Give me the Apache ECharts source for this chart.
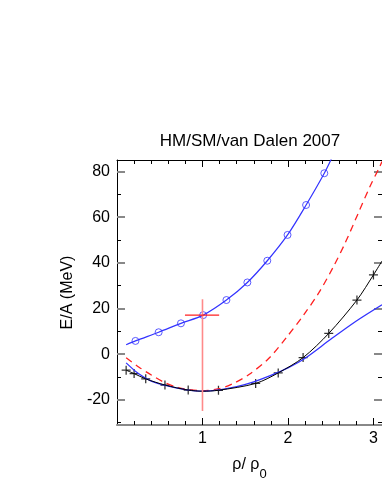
<!DOCTYPE html>
<html>
<head>
<meta charset="utf-8">
<script src="https://cdn.jsdelivr.net/npm/echarts@6/dist/echarts.min.js"></script>
<style>
  html, body { margin: 0; padding: 0; background: #fff; }
  #chart { width: 382px; height: 494px; }
</style>
</head>
<body>
<div id="chart"></div>
<script>
var FONT = 'Liberation Sans, Arial, Helvetica, sans-serif';

// tick positions
var xMajor = [1, 2, 3];
var xMinor = [0.2, 0.4, 0.6, 0.8, 1.2, 1.4, 1.6, 1.8, 2.2, 2.4, 2.6, 2.8];
var yMajor = [-20, 0, 20, 40, 60, 80];
var yMinor = [-30, -10, 10, 30, 50, 70];

// blue circles (HM, neutron matter) and the curve through them
var hmCircles = [[0.216, 5.8], [0.487, 9.6], [0.748, 13.5], [1.008, 17.1], [1.28, 23.7],
  [1.525, 31.4], [1.758, 40.9], [1.995, 52.2], [2.212, 65.3], [2.425, 79.2]];
var hmLine = [[0.107, 4.1], [0.216, 5.8], [0.487, 9.6], [0.748, 13.5], [1.008, 17.1], [1.28, 23.7],
  [1.525, 31.4], [1.758, 40.9], [1.995, 52.2], [2.212, 65.3], [2.425, 79.2], [2.52, 86.5]];

// black crosses (symmetric matter) and their curve
var smCrosses = [[0.107, -7.0], [0.2, -8.5], [0.336, -10.8], [0.561, -13.5], [0.833, -15.7],
  [1.187, -15.8], [1.622, -12.8], [1.886, -8.2], [2.177, -1.5], [2.477, 9.1], [2.807, 23.7], [3.0, 34.7]];
var smLine = [[0.107, -7.0], [0.2, -8.5], [0.336, -10.8], [0.561, -13.5], [0.833, -15.7], [1.0, -16.2],
  [1.187, -15.8], [1.622, -12.8], [1.886, -8.2], [2.177, -1.5], [2.477, 9.1], [2.807, 23.7], [3.0, 34.7], [3.1, 40.8]];

// blue solid curve without symbols
var blueLow = [[0.107, -3.8], [0.25, -8.5], [0.4, -11.8], [0.6, -14.0], [0.8, -15.5], [1.0, -16.2],
  [1.2, -15.6], [1.4, -14.2], [1.6, -12.1], [1.8, -9.3], [2.0, -6.0], [2.2, -1.8], [2.5, 6.5],
  [2.8, 14.5], [3.1, 21.6]];

// red dashed curve
var redDash = [[0.107, -1.6], [0.262, -5.8], [0.406, -9.2], [0.542, -12.1], [0.717, -14.6], [1.0, -16.0],
  [1.195, -15.1], [1.35, -13.0], [1.544, -8.9], [1.777, -1.8], [1.99, 7.7], [2.184, 17.2],
  [2.358, 26.7], [2.532, 38.3], [2.668, 48.6], [2.822, 61.7], [2.958, 73.3], [3.074, 82.1], [3.1, 84.3]];

// saturation point cross
var satH = [[0.795, 17.1], [1.195, 17.1]];
var satV = [[1.0, 24.0], [1.0, -24.9]];

var plus = 'path://M0,4.3H10V5.7H0Z M4.3,0H5.7V10H4.3Z';

function xAx(pos, ticks, len, line, labels) {
  return {
    type: 'value', position: pos, min: 0, max: 3.1,
    axisLine: { show: !!line, onZero: false, lineStyle: line || {} },
    axisTick: { show: true, inside: true, length: len, customValues: ticks,
      lineStyle: { color: '#000', width: 1 } },
    axisLabel: labels ? { customValues: ticks, color: '#000', fontSize: 16, fontFamily: FONT, margin: 6 } : { show: false },
    splitLine: { show: false }
  };
}
function yAx(pos, ticks, len, tickStyle, line, labels) {
  return {
    type: 'value', position: pos, min: -31, max: 85,
    axisLine: { show: !!line, onZero: false, lineStyle: line || {} },
    axisTick: { show: true, inside: true, length: len, customValues: ticks, lineStyle: tickStyle },
    axisLabel: labels ? { customValues: ticks, color: '#000', fontSize: 16, fontFamily: FONT, margin: 7 } : { show: false },
    splitLine: { show: false }
  };
}

var xBottom = xAx('bottom', xMajor, 7, { color: '#888', width: 2 }, true);
xBottom.name = '{a|ρ/ ρ}{b|0}';
xBottom.nameLocation = 'middle';
xBottom.nameGap = 23;
xBottom.nameTextStyle = {
  rich: {
    a: { fontSize: 16, fontFamily: FONT, color: '#000' },
    b: { fontSize: 13, fontFamily: FONT, color: '#000', padding: [20, 0, 0, 0] }
  }
};

var yLeft = yAx('left', yMajor, 8, { color: '#888', width: 2 }, { color: '#000', width: 1 }, true);
yLeft.name = 'E/A (MeV)';
yLeft.nameLocation = 'middle';
yLeft.nameGap = 38;
yLeft.nameTextStyle = { fontSize: 16, fontFamily: FONT, color: '#000' };

function curve(data, style) {
  return { type: 'line', data: data, smooth: 0.3,
    showSymbol: false, clip: true, lineStyle: style };
}

var option = {
  animation: false,
  backgroundColor: '#fff',
  title: {
    text: 'HM/SM/van Dalen 2007',
    left: 250, top: 133, textAlign: 'center', padding: 0,
    textStyle: { fontSize: 17, fontWeight: 'normal', fontFamily: FONT, color: '#000' }
  },
  grid: { left: 117, right: -2, top: 160, bottom: 69 },
  xAxis: [
    xBottom,
    xAx('bottom', xMinor, 4, null, false),
    xAx('top', xMajor, 7, { color: '#000', width: 1 }, false),
    xAx('top', xMinor, 4, null, false)
  ],
  yAxis: [
    yLeft,
    yAx('left', yMinor, 4, { color: '#000', width: 1 }, null, false),
    yAx('right', yMajor, 8, { color: '#888', width: 2 }, null, false),
    yAx('right', yMinor, 4, { color: '#000', width: 1 }, null, false)
  ],
  series: [
    curve(redDash, { color: '#ff2020', width: 1.3, type: [7, 5] }),
    curve(blueLow, { color: '#3333ff', width: 1.3 }),
    curve(smLine, { color: '#000', width: 1 }),
    { type: 'scatter', data: smCrosses, symbol: plus, symbolSize: 9,
      itemStyle: { color: '#000' } },
    curve(hmLine, { color: '#3333ff', width: 1.2 }),
    { type: 'scatter', data: hmCircles, symbol: 'circle', symbolSize: 7,
      itemStyle: { color: 'rgba(255,255,255,0)', borderColor: '#3333ff', borderWidth: 1 } },
    { type: 'line', data: satV, showSymbol: false,
      lineStyle: { color: '#ff8a8a', width: 1.6 } },
    { type: 'line', data: satH, showSymbol: false,
      lineStyle: { color: '#ff2020', width: 1.3 } }
  ]
};

var chart = echarts.init(document.getElementById('chart'));
chart.setOption(option);
</script>
</body>
</html>
